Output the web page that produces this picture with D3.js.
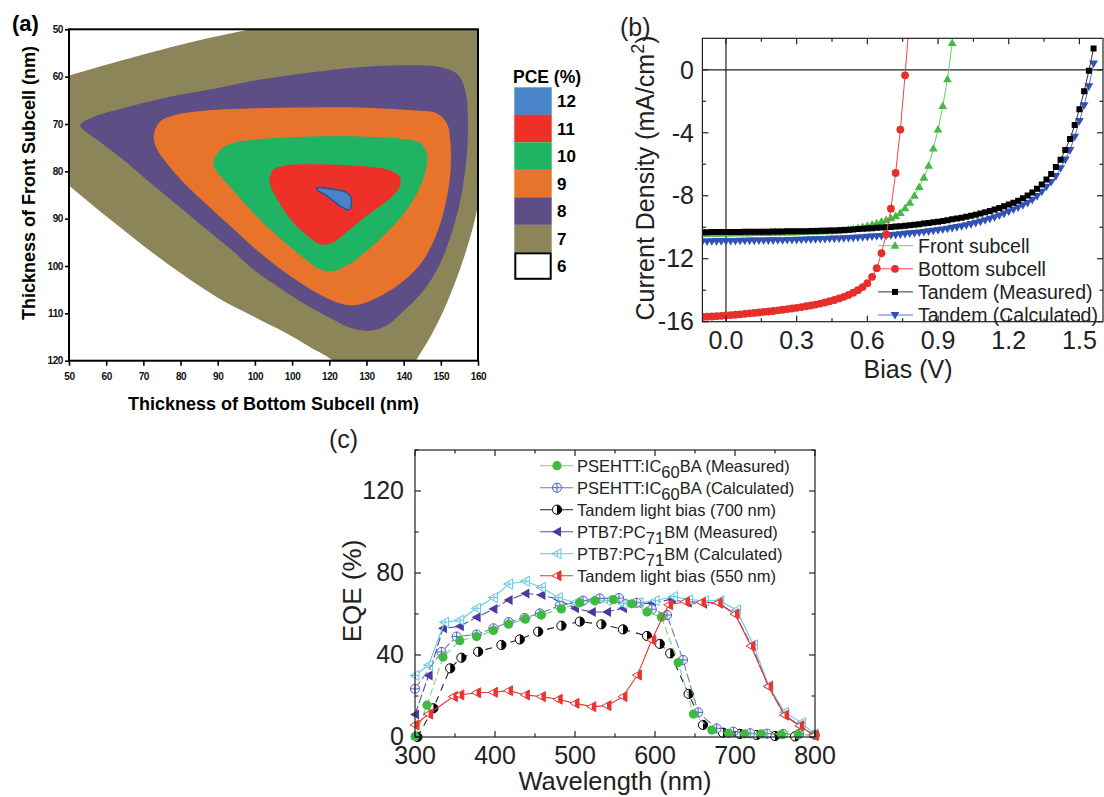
<!DOCTYPE html>
<html><head><meta charset="utf-8">
<script src="https://cdnjs.cloudflare.com/ajax/libs/d3/7.8.5/d3.min.js"></script>
<style>
html,body{margin:0;padding:0;background:#fff;}
svg{display:block;}
text{font-family:"Liberation Sans",Arial,Helvetica,sans-serif;}
</style></head><body>
<svg id="chart" width="1104" height="797"></svg>
<script>
// ---------------- Panel (a) data ----------------
const aXTicks = [50,60,70,80,90,100,110,120,130,140,150,160];
const aXTickLabels = ["50","60","70","80","90","100","100","120","130","140","150","160"];
const aYTicks = [50,60,70,80,90,100,110,120];
const pceLevels = [12,11,10,9,8,7,6];
const pceColors = ["#4a84c8","#ee3128","#1fb463","#e8732a","#5d4f86","#8b8559","#ffffff"];
const contour7 = [[44,61.3],[50,59.8],[60,57.5],[70,55.3],[85,52.3],[100,49.8],[115,47.3],[135,44],[163,43],[164,70],[161.5,80],[159.5,89],[157.5,95],[155,101],[151.5,108],[147.5,114.5],[143.3,120],[140.5,124],[124,123],[121,120],[115,117.2],[108,114],[100,110.8],[90,106.7],[80,101.5],[70,95.7],[60,89.5],[50,83],[44,79]];
const contour8 = [[53,70.2],[56.5,68.5],[62,67.2],[75,64.6],[90,62.4],[101.5,60.6],[115,59.1],[128,58],[140,57.6],[150,58],[154.5,59.5],[156.6,63],[157.3,70],[156.8,78],[155.3,86],[153.3,92],[149.8,99.5],[145.5,105],[140,109.5],[135.5,112.5],[130.5,113.7],[125.5,113],[121,111.3],[114,108.3],[107.6,105.1],[100,101],[94,96.8],[87,92.3],[80.5,88],[72,82.5],[64,77.2],[57,73],[54,71.3]];
const contour9 = [[72.8,72.5],[74.5,69.5],[78,68.2],[85,67.3],[100,66.7],[115,66.5],[128,66.5],[140,67],[149,67.8],[151.7,70],[152.6,74],[152.6,80],[151.5,86],[149,93],[145.5,98.5],[141,102.5],[135,105.8],[129.5,107.8],[125.5,108.3],[121,107.4],[116,105.4],[107.5,101],[100,96.3],[93,91.3],[87,87],[81,82.5],[76.5,78.5],[73.5,75]];
const contour10 = [[88.8,78.5],[90.3,75.8],[93.5,74.2],[100,73.3],[110,72.8],[120,72.6],[130,72.7],[140,73.2],[144.5,74],[146.3,76.5],[146,79.5],[144.3,83.5],[140.5,88.5],[135,93.3],[129.5,97.2],[124.5,100],[120.5,101.1],[117,100.5],[113.5,98.5],[108,95],[103,91.5],[97.5,87],[93,83],[90,80.3]];
const contour11 = [[103.9,81.5],[105,79.6],[108.5,78.7],[115,78.5],[122,78.6],[130,79],[135.5,79.6],[138.8,81],[139.2,82.5],[137.8,84.6],[133.5,87.5],[129,90],[125,92.6],[121.5,94.8],[118.6,95.5],[116,94.8],[113.5,93.2],[110.5,91],[108,88.5],[105.7,85.5],[104.3,83.3]];
const contour12 = [[116.7,83.5],[117.5,83.4],[121,83.8],[124.5,84.4],[125.8,85.5],[125.9,87.2],[125.3,88.1],[124.2,87.9],[121.5,86.5],[119,85],[116.9,84]];

// ---------------- Panel (b) data ----------------
const biasV = [-0.10,-0.08,-0.06,-0.04,-0.02,0.00,0.02,0.04,0.06,0.08,0.10,0.12,0.14,0.16,0.18,0.20,0.22,0.24,0.26,0.28,0.30,0.32,0.34,0.36,0.38,0.40,0.42,0.44,0.46,0.48,0.50,0.52,0.54,0.56,0.58,0.60,0.62,0.64,0.66,0.68,0.70,0.72,0.74,0.76,0.78,0.80,0.82,0.84,0.86,0.88,0.90,0.92,0.94,0.96,0.98,1.00,1.02,1.04,1.06,1.08,1.10,1.12,1.14,1.16,1.18,1.20,1.22,1.24,1.26,1.28,1.30,1.32,1.34,1.36,1.38,1.40,1.42,1.44,1.46,1.48,1.50,1.52,1.54,1.56];
const frontJ = [-10.42,-10.42,-10.41,-10.41,-10.40,-10.40,-10.40,-10.39,-10.39,-10.38,-10.38,-10.37,-10.37,-10.36,-10.36,-10.35,-10.35,-10.34,-10.34,-10.33,-10.32,-10.31,-10.30,-10.29,-10.28,-10.27,-10.26,-10.25,-10.24,-10.22,-10.20,-10.16,-10.12,-10.06,-9.99,-9.92,-9.84,-9.75,-9.65,-9.55,-9.43,-9.30,-9.10,-8.80,-8.45,-8.00,-7.45,-6.85,-6.10,-5.00,-3.80,-2.30,-0.60,1.70];
const bottomJ = [-15.70,-15.68,-15.67,-15.65,-15.63,-15.60,-15.58,-15.56,-15.53,-15.50,-15.47,-15.44,-15.41,-15.38,-15.35,-15.32,-15.28,-15.24,-15.20,-15.16,-15.12,-15.07,-15.02,-14.97,-14.91,-14.85,-14.78,-14.70,-14.62,-14.52,-14.42,-14.30,-14.16,-14.00,-13.80,-13.55,-13.15,-12.60,-11.65,-10.45,-8.82,-6.55,-3.80,-0.35,3.50];
const tandemMeasJ = [-10.32,-10.32,-10.31,-10.31,-10.31,-10.30,-10.30,-10.30,-10.30,-10.29,-10.29,-10.29,-10.28,-10.28,-10.28,-10.27,-10.27,-10.27,-10.26,-10.26,-10.26,-10.25,-10.25,-10.24,-10.24,-10.23,-10.22,-10.21,-10.20,-10.19,-10.18,-10.16,-10.14,-10.12,-10.10,-10.08,-10.06,-10.04,-10.02,-10.00,-9.98,-9.95,-9.93,-9.90,-9.87,-9.84,-9.81,-9.77,-9.73,-9.69,-9.65,-9.60,-9.55,-9.50,-9.45,-9.39,-9.33,-9.27,-9.20,-9.13,-9.05,-8.97,-8.88,-8.78,-8.67,-8.56,-8.44,-8.31,-8.16,-7.99,-7.79,-7.56,-7.29,-6.97,-6.62,-6.18,-5.72,-5.10,-4.39,-3.50,-2.50,-1.37,-0.06,1.35];
const tandemCalcJ = [-10.90,-10.90,-10.89,-10.89,-10.88,-10.88,-10.87,-10.87,-10.86,-10.86,-10.85,-10.85,-10.84,-10.84,-10.83,-10.83,-10.82,-10.82,-10.81,-10.81,-10.80,-10.79,-10.78,-10.77,-10.76,-10.75,-10.74,-10.73,-10.72,-10.71,-10.70,-10.68,-10.67,-10.65,-10.63,-10.61,-10.59,-10.57,-10.55,-10.53,-10.50,-10.48,-10.45,-10.42,-10.39,-10.36,-10.33,-10.30,-10.26,-10.22,-10.18,-10.14,-10.09,-10.04,-9.99,-9.93,-9.87,-9.80,-9.72,-9.64,-9.55,-9.46,-9.36,-9.25,-9.13,-9.00,-8.87,-8.74,-8.60,-8.45,-8.26,-8.02,-7.74,-7.43,-7.12,-6.75,-6.25,-5.70,-5.10,-4.25,-3.25,-2.25,-1.05,0.40];
const bXMajor = [0.0,0.3,0.6,0.9,1.2,1.5];
const bXMinor = [0.15,0.45,0.75,1.05,1.35];
const bYMajor = [-16,-12,-8,-4,0];
const bYMinor = [-14,-10,-6,-2];
const bLegend = ["Front subcell","Bottom subcell","Tandem (Measured)","Tandem (Calculated)"];

// ---------------- Panel (c) data ----------------
const psMeasWl = [300,315,335,356,377,398,417,438,458,483,506,525,548,571,590,608,629,648,671,692,712,733,758,779,800];
const psMeasEqe = [0.2,15.5,39,47,49,52,55,57.5,59.5,62.5,65.5,66.5,67,65,61,58.5,36.3,11.2,3.4,1.8,1.5,1.5,1.2,1.2,0.8];
const psCalcWl = [300,333,352,377,398,417,437,456,481,510,531,555,577,596,615,635,654,677,698,719,740,760,780,800];
const psCalcEqe = [23.5,41.5,49,50,53,56,58,60.3,64,66.5,67.6,67.8,65.5,62.3,59.5,37.6,12,4.2,2.6,1.8,1.6,1.5,1.5,1];
const bias700Wl = [303,323,344,358,379,408,431,454,483,506,533,560,590,606,619,642,660,685,706,727,750,775];
const bias700Eqe = [0,14,33.5,38.7,41.6,44.9,47.6,51.4,54.3,56.3,55,52.5,49.3,45.4,40.8,21,5.9,2.1,1.5,1,0.5,0.3];
const ptbMeasWl = [300,317,335,356,377,398,417,438,458,479,500,521,540,560,578,596,621,641,660,680,700,721,742,762,781,800];
const ptbMeasEqe = [11,30,53,54,58.4,62.4,66.8,70,69.3,67.2,62.8,61,61,62.8,65.2,65.2,67.2,65.5,65,65,60,44.4,24.5,10.5,5.3,0.7];
const ptbCalcWl = [300,317,337,356,377,398,417,438,458,479,500,521,540,560,580,600,623,642,662,681,702,723,742,762,783,799];
const ptbCalcEqe = [30,35,56,57,62.8,68,74.6,76,73,68,65.5,66.5,66.5,65,65.5,66.5,68.5,67,66.5,66.5,62,45,25,12,7,1.5];
const bias550Wl = [300,317,348,356,377,398,417,438,458,479,500,521,540,560,578,596,617,638,658,679,700,720,742,762,781,799];
const bias550Eqe = [5.9,11.2,19.7,20.5,21.6,21.8,22.6,20.5,19.7,18.4,16.4,14.8,15.3,19.7,30.2,47.3,64.5,66,65.7,65.5,60,44.4,24.6,10.7,5.5,0.7];
const cXMajor = [300,400,500,600,700,800];
const cXMinor = [350,450,550,650,750];
const cYMajor = [0,40,80,120];
const cYMinor = [20,60,100,140];

// =================================================
const svg = d3.select("#chart");
const defs = svg.append("defs");

// ---------------- Panel (a) ----------------
const ax = d3.scaleLinear().domain([50,160]).range([69,478]);
const ay = d3.scaleLinear().domain([50,120]).range([29.3,360.7]);
defs.append("clipPath").attr("id","clipA").append("rect")
  .attr("x",ax(50)).attr("y",ay(50)).attr("width",ax(160)-ax(50)).attr("height",ay(120)-ay(50));
const gA = svg.append("g");
const contourLine = d3.line().x(d=>ax(d[0])).y(d=>ay(d[1])).curve(d3.curveCatmullRomClosed.alpha(0.5));
const contours = [
  {lvl:7, pts:contour7}, {lvl:8, pts:contour8}, {lvl:9, pts:contour9},
  {lvl:10, pts:contour10}, {lvl:11, pts:contour11}, {lvl:12, pts:contour12}
];
const colorOf = lvl => pceColors[pceLevels.indexOf(lvl)];
const layerG = gA.append("g").attr("clip-path","url(#clipA)");
contours.forEach(c=>{
  layerG.append("path").attr("d",contourLine(c.pts)).attr("fill",colorOf(c.lvl))
    .attr("stroke", c.lvl===12 ? "#2d5590" : "none").attr("stroke-width",1.6);
});
gA.append("rect").attr("x",ax(50)).attr("y",ay(50)).attr("width",ax(160)-ax(50)).attr("height",ay(120)-ay(50))
  .attr("fill","none").attr("stroke","#000").attr("stroke-width",2);
const axA = gA.append("g").attr("transform",`translate(0,${ay(120)})`)
  .call(d3.axisBottom(ax).tickValues(aXTicks).tickSize(5).tickPadding(7)
    .tickFormat((d,i)=>aXTickLabels[i]));
const ayA = gA.append("g").attr("transform",`translate(${ax(50)},0)`)
  .call(d3.axisLeft(ay).tickValues(aYTicks).tickSize(4).tickPadding(2).tickFormat(d3.format("d")));
[axA,ayA].forEach(g=>{
  g.select(".domain").remove();
  g.selectAll(".tick line").attr("stroke","#000").attr("stroke-width",1.6);
  g.selectAll(".tick text").attr("font-size",10).attr("font-weight","bold").attr("fill","#111")
    .attr("font-family","'Liberation Sans',Arial,sans-serif").attr("letter-spacing","-0.4");
});
gA.append("text").attr("x",12).attr("y",31).attr("font-size",22).attr("font-weight","bold").text("(a)");
gA.append("text").attr("x",(ax(50)+ax(160))/2).attr("y",410).attr("text-anchor","middle")
  .attr("font-size",18).attr("font-weight","bold").text("Thickness of Bottom Subcell (nm)");
gA.append("text").attr("transform","translate(35,183) rotate(-90)").attr("text-anchor","middle")
  .attr("font-size",18).attr("font-weight","bold").text("Thickness of Front Subcell (nm)");
const legA = gA.append("g");
legA.append("text").attr("x",513).attr("y",83).attr("font-size",17.5).attr("font-weight","bold").text("PCE (%)");
pceLevels.forEach((lvl,i)=>{
  const y0 = 87.3 + i*27.5;
  const isLast = i===pceLevels.length-1;
  legA.append("rect").attr("x", isLast?515.3:514.3).attr("y", isLast?y0+1:y0)
    .attr("width", isLast?35.4:37.4).attr("height", isLast?25.5:27.6)
    .attr("fill",pceColors[i]).attr("stroke",isLast?"#000":"none").attr("stroke-width",2);
  legA.append("text").attr("x",557).attr("y",y0+14).attr("dy","0.35em")
    .attr("font-size",17).attr("font-weight","bold").text(lvl);
});

// ---------------- generic frame/ticks helper ----------------
function frameTicks(g, x, y, xMaj, xMin, yMaj, yMin, majL, minL, col, sw){
  const [x0,x1] = x.range(), [y0,y1] = y.range();
  const seg = (a,b,c,d)=>g.append("line").attr("x1",a).attr("y1",b).attr("x2",c).attr("y2",d)
    .attr("stroke",col).attr("stroke-width",sw);
  xMaj.forEach(v=>{ seg(x(v),y0,x(v),y0-majL); seg(x(v),y1,x(v),y1+majL); });
  xMin.forEach(v=>{ seg(x(v),y0,x(v),y0-minL); seg(x(v),y1,x(v),y1+minL); });
  yMaj.forEach(v=>{ seg(x0,y(v),x0+majL,y(v)); seg(x1,y(v),x1-majL,y(v)); });
  yMin.forEach(v=>{ seg(x0,y(v),x0+minL,y(v)); seg(x1,y(v),x1-minL,y(v)); });
  g.append("rect").attr("x",x0).attr("y",y1).attr("width",x1-x0).attr("height",y0-y1)
    .attr("fill","none").attr("stroke",col).attr("stroke-width",sw);
}

// ---------------- Panel (b) ----------------
const bx = d3.scaleLinear().domain([-0.1,1.6]).range([702.4,1103]);
const by = d3.scaleLinear().domain([-16,2]).range([321.7,38.3]);
defs.append("clipPath").attr("id","clipB").append("rect")
  .attr("x",bx(-0.1)).attr("y",by(2)).attr("width",bx(1.6)-bx(-0.1)).attr("height",by(-16)-by(2));
const gB = svg.append("g");
gB.append("line").attr("x1",bx(-0.1)).attr("x2",bx(1.6)).attr("y1",by(0)).attr("y2",by(0)).attr("stroke","#222").attr("stroke-width",1.2);
gB.append("line").attr("x1",bx(0)).attr("x2",bx(0)).attr("y1",by(2)).attr("y2",by(-16)).attr("stroke","#222").attr("stroke-width",1.2);

const symTriUp = "M0,-4.6L4.4,3L-4.4,3Z";
const symTriDown = "M0,4.6L4.4,-3L-4.4,-3Z";
const symSquare = "M-3,-3H3V3H-3Z";
const symCircle = d3.symbol().type(d3.symbolCircle).size(48)();
const bSeries = [
  {J:tandemCalcJ, col:"#2f52b4", line:"#5574c8", sym:symTriDown},
  {J:frontJ, col:"#45b845", line:"#6fcc6f", sym:symTriUp},
  {J:tandemMeasJ, col:"#000", line:"#333", sym:symSquare},
  {J:bottomJ, col:"#e62f2b", line:"#e84a45", sym:symCircle}
];
const dataB = gB.append("g").attr("clip-path","url(#clipB)");
const lineB = d3.line().x(d=>bx(d[0])).y(d=>by(d[1]));
bSeries.forEach(s=>{
  const pts = s.J.map((j,i)=>[biasV[i],j]);
  dataB.append("path").attr("d",lineB(pts)).attr("fill","none").attr("stroke",s.line).attr("stroke-width",1);
  dataB.selectAll(null).data(pts).enter().append("path")
    .attr("transform",d=>`translate(${bx(d[0])},${by(d[1])})`).attr("d",s.sym).attr("fill",s.col);
});
frameTicks(gB, bx, by, bXMajor, bXMinor, bYMajor, bYMinor, 6, 3.5, "#222", 1.2);
bXMajor.forEach(v=>gB.append("text").attr("x",bx(v)).attr("y",349).attr("text-anchor","middle")
  .attr("font-size",25).attr("fill","#222").text(d3.format(".1f")(v)));
bYMajor.forEach(v=>gB.append("text").attr("x",694).attr("y",by(v)).attr("dy","0.35em").attr("text-anchor","end")
  .attr("font-size",25).attr("fill","#222").text(v));
gB.append("text").attr("x",908).attr("y",378).attr("text-anchor","middle").attr("font-size",25).attr("fill","#222").text("Bias (V)");
const yt = gB.append("text").attr("transform","translate(654,178) rotate(-90)").attr("text-anchor","middle")
  .attr("font-size",25).attr("fill","#222");
yt.append("tspan").text("Current Density (mA/cm");
yt.append("tspan").attr("dy",-10).attr("font-size",18).text("2");
yt.append("tspan").attr("dy",10).text(")");
gB.append("text").attr("x",620).attr("y",36).attr("font-size",25).attr("fill","#222").text("(b)");
const bLegOrder = [1,3,2,0];
bLegend.forEach((lab,i)=>{
  const s = bSeries[bLegOrder[i]];
  const cyy = 245.7 + i*23.1;
  gB.append("line").attr("x1",878).attr("x2",913).attr("y1",cyy).attr("y2",cyy).attr("stroke",s.line).attr("stroke-width",1);
  gB.append("path").attr("transform",`translate(895,${cyy})`).attr("d",s.sym).attr("fill",s.col);
  gB.append("text").attr("x",918).attr("y",cyy).attr("dy","0.36em").attr("font-size",19.5).attr("fill","#222").text(lab);
});

// ---------------- Panel (c) ----------------
const cx = d3.scaleLinear().domain([300,800]).range([415,815]);
const cy = d3.scaleLinear().domain([0,140]).range([737,450]);
const gC = svg.append("g");
const lineC = d3.line().x(d=>cx(d[0])).y(d=>cy(d[1]));

function drawMarker(g, kind, col, x, y){
  const m = g.append("g").attr("transform",`translate(${x},${y})`);
  const r = 4.6, s = 5;
  if(kind==="fcircle"){
    m.append("circle").attr("r",r).attr("fill",col);
  } else if(kind==="ocross"){
    m.append("circle").attr("r",r).attr("fill","#eef0fb").attr("stroke",col).attr("stroke-width",1);
    m.append("path").attr("d",`M${-r},0H${r}M0,${-r}V${r}`).attr("stroke",col).attr("stroke-width",1);
  } else if(kind==="half"){
    m.append("circle").attr("r",r).attr("fill","#fff").attr("stroke",col).attr("stroke-width",1);
    m.append("path").attr("d",`M0,${-r}A${r},${r} 0 0 1 0,${r}Z`).attr("fill",col);
  } else if(kind==="ftri"){
    m.append("path").attr("d",`M${-s},0L${0.8*s},${-s}L${0.8*s},${s}Z`).attr("fill",col);
  } else if(kind==="otri"){
    m.append("path").attr("d",`M${-s},0L${0.8*s},${-s}L${0.8*s},${s}Z`).attr("fill","#fff").attr("stroke",col).attr("stroke-width",1);
    m.append("path").attr("d",`M${-s},0H${0.8*s}M${0.1*s},${-0.5*s}V${0.5*s}`).attr("stroke",col).attr("stroke-width",1);
  } else if(kind==="htri"){
    const h = 0.556*s;
    m.append("path").attr("d",`M${-s},0L${0.8*s},${-s}L${0.8*s},${s}Z`).attr("fill","#fff").attr("stroke",col).attr("stroke-width",1);
    m.append("path").attr("d",`M0,${-h}L${0.8*s},${-s}L${0.8*s},${s}L0,${h}Z`).attr("fill",col);
  }
}
const cSeries = [
  {wl:ptbMeasWl, v:ptbMeasEqe, col:"#4a3b9c", line:"#5a4ca8", dash:"9,3", kind:"ftri",
    lab:["PTB7:PC","71","BM (Measured)"]},
  {wl:ptbCalcWl, v:ptbCalcEqe, col:"#5cc6e4", line:"#66c9e6", dash:null, kind:"otri",
    lab:["PTB7:PC","71","BM (Calculated)"]},
  {wl:bias700Wl, v:bias700Eqe, col:"#000", line:"#222", dash:"7,6", kind:"half",
    lab:["Tandem light bias (700 nm)"]},
  {wl:psCalcWl, v:psCalcEqe, col:"#5966bd", line:"#6d79c6", dash:"9,3", kind:"ocross",
    lab:["PSEHTT:IC","60","BA (Calculated)"]},
  {wl:psMeasWl, v:psMeasEqe, col:"#3fba3f", line:"#7dd27d", dash:"7,4", kind:"fcircle",
    lab:["PSEHTT:IC","60","BA (Measured)"]},
  {wl:bias550Wl, v:bias550Eqe, col:"#e8352f", line:"#e8352f", dash:null, kind:"htri",
    lab:["Tandem light bias (550 nm)"]}
];
cSeries.forEach(s=>{
  const pts = s.wl.map((w,i)=>[w,s.v[i]]);
  const p = gC.append("path").attr("d",lineC(pts)).attr("fill","none").attr("stroke",s.line).attr("stroke-width",1.1);
  if(s.dash) p.attr("stroke-dasharray",s.dash);
  pts.forEach(d=>drawMarker(gC, s.kind, s.col, cx(d[0]), cy(d[1])));
});
frameTicks(gC, cx, cy, cXMajor, cXMinor, cYMajor, cYMinor, 6, 3.5, "#222", 1.2);
cXMajor.forEach(v=>gC.append("text").attr("x",cx(v)).attr("y",764).attr("text-anchor","middle")
  .attr("font-size",25).attr("fill","#222").text(v));
cYMajor.forEach(v=>gC.append("text").attr("x",404).attr("y",cy(v)).attr("dy","0.32em").attr("text-anchor","end")
  .attr("font-size",25).attr("fill","#222").text(v));
gC.append("text").attr("x",(cx(300)+cx(800))/2).attr("y",790).attr("text-anchor","middle")
  .attr("font-size",25.5).attr("fill","#222").text("Wavelength (nm)");
gC.append("text").attr("transform","translate(361,591) rotate(-90)").attr("text-anchor","middle")
  .attr("font-size",26).attr("fill","#222").text("EQE (%)");
gC.append("text").attr("x",329).attr("y",448).attr("font-size",25).attr("fill","#222").text("(c)");
const cLegOrder = [4,3,2,0,1,5];
cLegOrder.forEach((si,i)=>{
  const s = cSeries[si];
  const base = 471.7 + i*22;
  const my = base - 6;
  gC.append("line").attr("x1",540).attr("x2",573).attr("y1",my).attr("y2",my).attr("stroke",s.line).attr("stroke-width",1.1);
  drawMarker(gC, s.kind, s.col, 557, my);
  const t = gC.append("text").attr("x",577).attr("y",base).attr("font-size",16.5).attr("fill","#222");
  t.append("tspan").text(s.lab[0]);
  if(s.lab.length>1){
    t.append("tspan").attr("dy",6).text(s.lab[1]);
    t.append("tspan").attr("dy",-6).text(s.lab[2]);
  }
});
</script></body></html>
